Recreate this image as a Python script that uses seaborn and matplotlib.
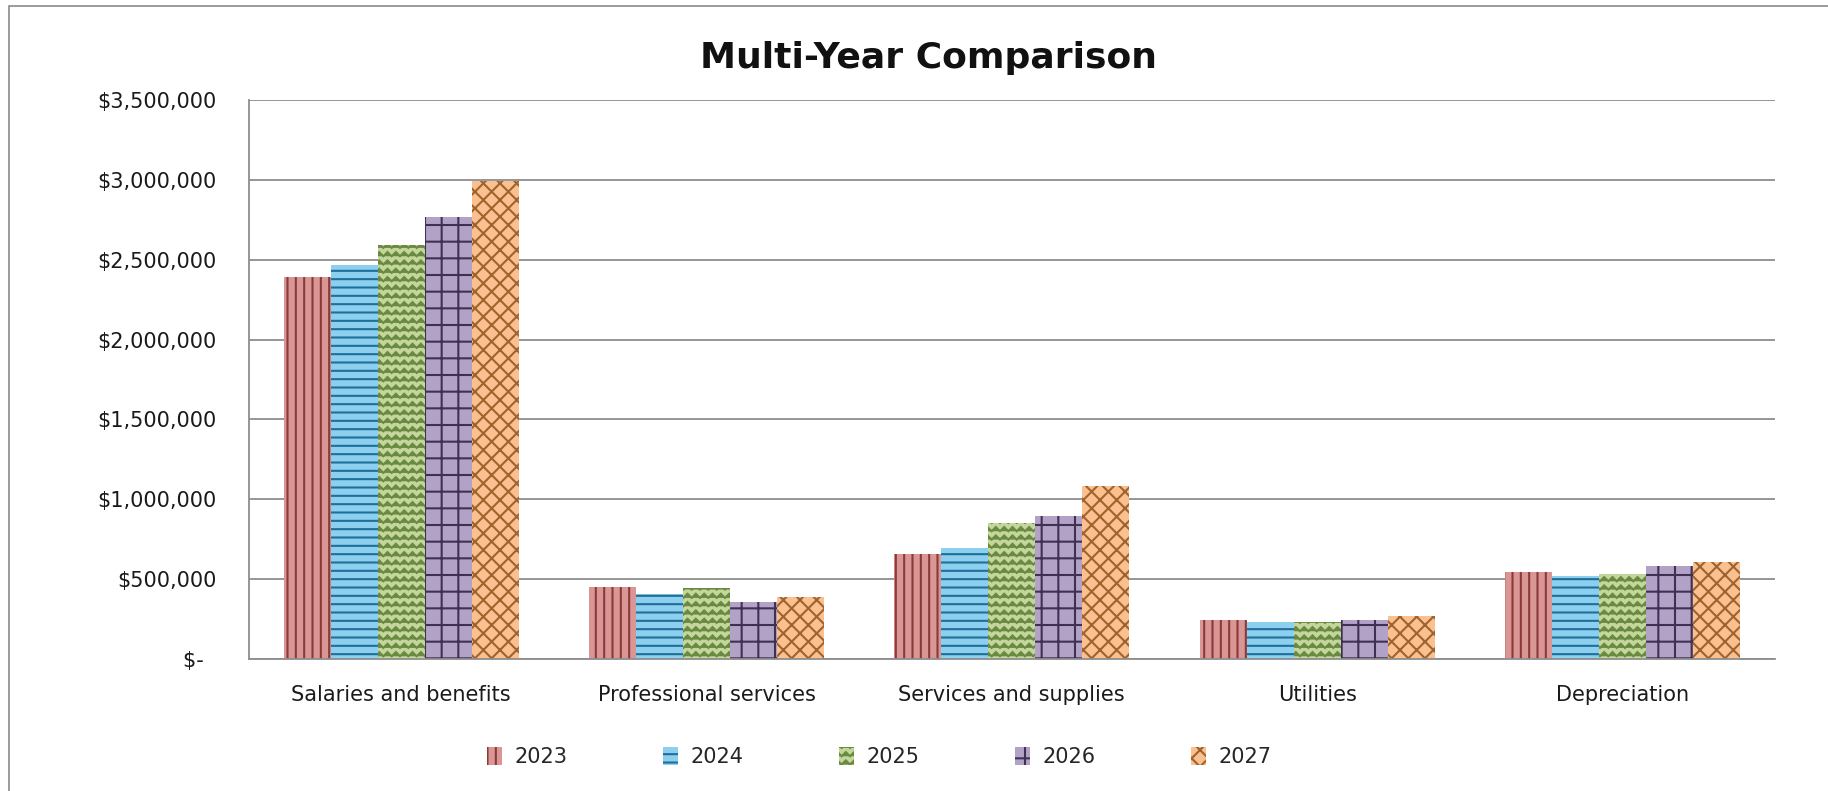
import warnings
import numpy as np
import pandas as pd
import matplotlib
matplotlib.use('Agg')
import matplotlib.pyplot as plt
import matplotlib.hatch as mhatch
import matplotlib.patches as mpatches
from matplotlib.path import Path
from matplotlib.ticker import FuncFormatter
import seaborn as sns

warnings.filterwarnings('ignore')

categories = ['Salaries and benefits', 'Professional services', 'Services and supplies',
              'Utilities', 'Depreciation']
years = ['2023', '2024', '2025', '2026', '2027']
v2023 = [2390000, 452000, 654000, 242000, 542000]
v2024 = [2464000, 404000, 692000, 229000, 517000]
v2025 = [2589000, 442000, 854000, 229000, 531000]
v2026 = [2765000, 354000, 894000, 242000, 579000]
v2027 = [2994000, 390000, 1081000, 267000, 604000]

fills = ['#D99694', '#8DCFEF', '#C3D69B', '#B3A2C7', '#FAC090']
lines = ['#8B3A3A', '#1F6F9A', '#6A8A42', '#3F3151', '#A0632E']
hatches = ['||', '--', 'zz', '+', 'xx']


# zigzag pattern, matplotlib has none
class ZigZagHatch(mhatch.HatchPatternBase):
    def __init__(self, hatch, density):
        self.num_lines = int(hatch.count('z') * density)
        self.n_pts = 2 * self.num_lines + 1
        self.num_vertices = self.num_lines * self.n_pts

    def set_vertices_and_codes(self, vertices, codes):
        amp = 0.25 / self.num_lines
        xs = np.linspace(0, 1, self.n_pts)
        offs = np.where(np.arange(self.n_pts) % 2 == 0, -amp, amp)
        n = self.n_pts
        for i in range(self.num_lines):
            y0 = (i + 0.5) / self.num_lines
            vertices[i * n:(i + 1) * n, 0] = xs
            vertices[i * n:(i + 1) * n, 1] = y0 + offs
            codes[i * n] = Path.MOVETO
            codes[i * n + 1:(i + 1) * n] = Path.LINETO


mhatch._hatch_types.append(ZigZagHatch)

rows = []
for yr, vals in zip(years, [v2023, v2024, v2025, v2026, v2027]):
    for cat, v in zip(categories, vals):
        rows.append({'category': cat, 'year': yr, 'value': v})
df = pd.DataFrame(rows)

sns.set_style('white')
plt.rcParams['font.family'] = ['DejaVu Sans']
plt.rcParams['hatch.linewidth'] = 1.5

fig = plt.figure(figsize=(18.28, 7.91), dpi=100)
ax = fig.add_axes([0.136, 0.167, 0.835, 0.7066])

sns.barplot(data=df, x='category', y='value', hue='year', palette=fills,
            width=0.77, saturation=1, legend=False, ax=ax)

for cont, h, ec in zip(ax.containers, hatches, lines):
    for bar in cont:
        bar.set_hatch(h)
        bar.set_edgecolor(ec)
        bar.set_linewidth(0)

ax.set_ylim(0, 3500000)
ax.set_yticks(np.arange(0, 3500001, 500000))
ax.yaxis.set_major_formatter(FuncFormatter(lambda v, p: '$-  ' if v == 0 else f'${v:,.0f}'))
ax.set_xlabel('')
ax.set_ylabel('')
ax.grid(axis='y', color='#8E8E8E', linewidth=1.3)
ax.set_axisbelow(True)
for s in ['top', 'right']:
    ax.spines[s].set_visible(False)
for s in ['left', 'bottom']:
    ax.spines[s].set_color('#8E8E8E')
    ax.spines[s].set_linewidth(1.3)
ax.tick_params(axis='y', length=0, pad=23, labelsize=15, labelcolor='#1a1a1a')
ax.tick_params(axis='x', length=0, pad=19, labelsize=15, labelcolor='#1a1a1a')

fig.text(0.508, 0.914, 'Multi-Year Comparison', ha='center', va='baseline',
         fontsize=26, fontweight='bold', color='#111111')

handles = [mpatches.Patch(facecolor=f, edgecolor=e, hatch=h, linewidth=0)
           for f, e, h in zip(fills, lines, hatches)]
fig.legend(handles, years, loc='center', bbox_to_anchor=(0.481, 0.043), ncol=5,
           frameon=False, fontsize=15, handlelength=0.7, handleheight=1.0,
           handletextpad=0.6, columnspacing=4.6)

fig.add_artist(mpatches.Rectangle((0.0049, -0.05), 1.1, 1.0424, transform=fig.transFigure,
                                  fill=False, edgecolor='#8a8a8a', linewidth=1.2))

fig.savefig('out.png', dpi=100, facecolor='white')
